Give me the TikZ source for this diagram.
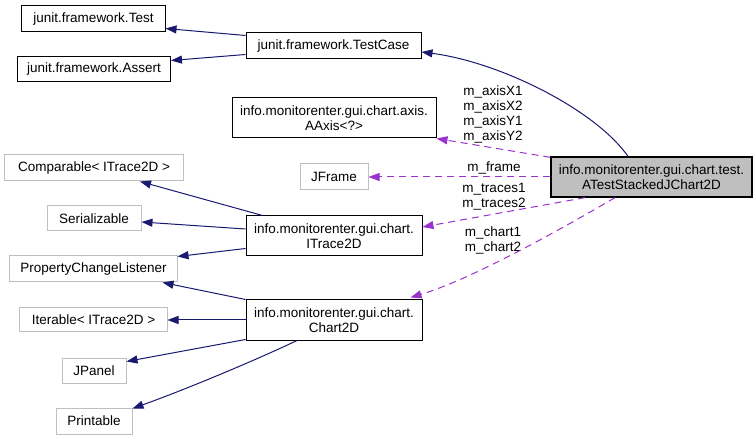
\documentclass[tikz,border=0pt]{standalone}
\usepackage{fontspec}
\setmainfont{Liberation Sans}
\usepackage{tikz}
\usetikzlibrary{arrows.meta}
\definecolor{navy}{HTML}{191970}
\definecolor{orchid}{HTML}{9A32CD}
\definecolor{shade}{HTML}{BFBFBF}

\begin{document}
\begin{tikzpicture}[x=1bp, y=-1bp, >={Triangle[length=11bp,width=8bp]}, every node/.style={font=\fontsize{13.5bp}{15bp}\selectfont}, box/.style={draw=black,line width=1bp,align=center,inner sep=0pt}, ext/.style={box,draw=shade}, main/.style={box,fill=shade,line width=1.3bp}, line/.style={->,draw=navy,line width=1bp}, member/.style={->,draw=orchid,line width=1bp,dash pattern=on 7bp off 5bp}, tag/.style={align=center,inner sep=0pt}]
\useasboundingbox (0,0) rectangle (756,440);
% junit side
\node[box,minimum width=143bp,minimum height=26bp] (test) at (93.5,19) {junit.framework.Test};
\node[box,minimum width=153bp,minimum height=25bp] (assert) at (94,69.5) {junit.framework.Assert};
\node[box,minimum width=175bp,minimum height=26bp] (testcase) at (333.5,46) {junit.framework.TestCase};
\node[box,minimum width=204bp,minimum height=40bp] (aaxis) at (334,118) {info.monitorenter.gui.chart.axis.\\AAxis<?>};
\node[main,minimum width=201bp,minimum height=40bp] (atest) at (651.5,177) {info.monitorenter.gui.chart.test.\\ATestStackedJChart2D};
% trace and chart
\node[ext,minimum width=178bp,minimum height=26bp] (comparable) at (94,168) {Comparable< ITrace2D >};
\node[ext,minimum width=68bp,minimum height=26bp] (jframe) at (334,177) {JFrame};
\node[ext,minimum width=94bp,minimum height=25bp] (serializable) at (94,218.5) {Serializable};
\node[box,minimum width=176bp,minimum height=40bp] (itrace) at (334,236) {info.monitorenter.gui.chart.\\ITrace2D};
\node[ext,minimum width=167bp,minimum height=26bp] (listener) at (93.5,269) {PropertyChangeListener};
\node[box,minimum width=176bp,minimum height=40bp] (chart) at (334,320) {info.monitorenter.gui.chart.\\Chart2D};
\node[ext,minimum width=147bp,minimum height=24bp] (iterable) at (93.5,320) {Iterable< ITrace2D >};
\node[ext,minimum width=64bp,minimum height=25bp] (jpanel) at (94,370.5) {JPanel};
\node[ext,minimum width=76bp,minimum height=26bp] (printable) at (94,421) {Printable};
% member labels
\node[tag] (axistag) at (493,114) {m\_axisX1\\m\_axisX2\\m\_axisY1\\m\_axisY2};
\node[tag] (frametag) at (494,168) {m\_frame};
\node[tag] (tracetag) at (494,196.5) {m\_traces1\\m\_traces2};
\node[tag] (charttag) at (493,240.5) {m\_chart1\\m\_chart2};
% inheritance
\draw[line] ([yshift=-3bp]testcase.north west) -- ([yshift=4bp]test.south east);
\draw[line] ([yshift=5bp]testcase.south west) -- ([yshift=-4bp]assert.north east);
\draw[line] ([xshift=-23.5bp]atest.north) .. controls +(-33,-47) and +(78,10) .. ([yshift=-6bp]testcase.east);
\draw[line] ([xshift=17bp]itrace.north west) -- ([xshift=46bp]comparable.south);
\draw[line] ([yshift=7bp]itrace.west) -- ([yshift=-3.5bp]serializable.east);
\draw[line] ([yshift=8bp]itrace.south west) -- ([yshift=-1bp]listener.north east);
\draw[line] (chart.north west) -- ([xshift=69bp]listener.south);
\draw[line] (chart.west) -- (iterable.east);
\draw[line] ([yshift=1bp]chart.south west) -- ([yshift=-4bp]jpanel.north east);
\draw[line] ([xshift=-37bp]chart.south) .. controls +(-42,20) and +(53,-19) .. ([yshift=-1bp]printable.north east);
% members
\draw[member] ([yshift=-1bp]atest.north west) -- (aaxis.south east);
\draw[member] (atest.west) -- (jframe.east);
\draw[member] ([xshift=-66.5bp]atest.south) -- ([yshift=9bp]itrace.east);
\draw[member] ([xshift=-36.5bp]atest.south) .. controls +(-60,35) and +(60,-18) .. ([xshift=-12bp,yshift=2bp]chart.north east);
\end{tikzpicture}
\end{document}
